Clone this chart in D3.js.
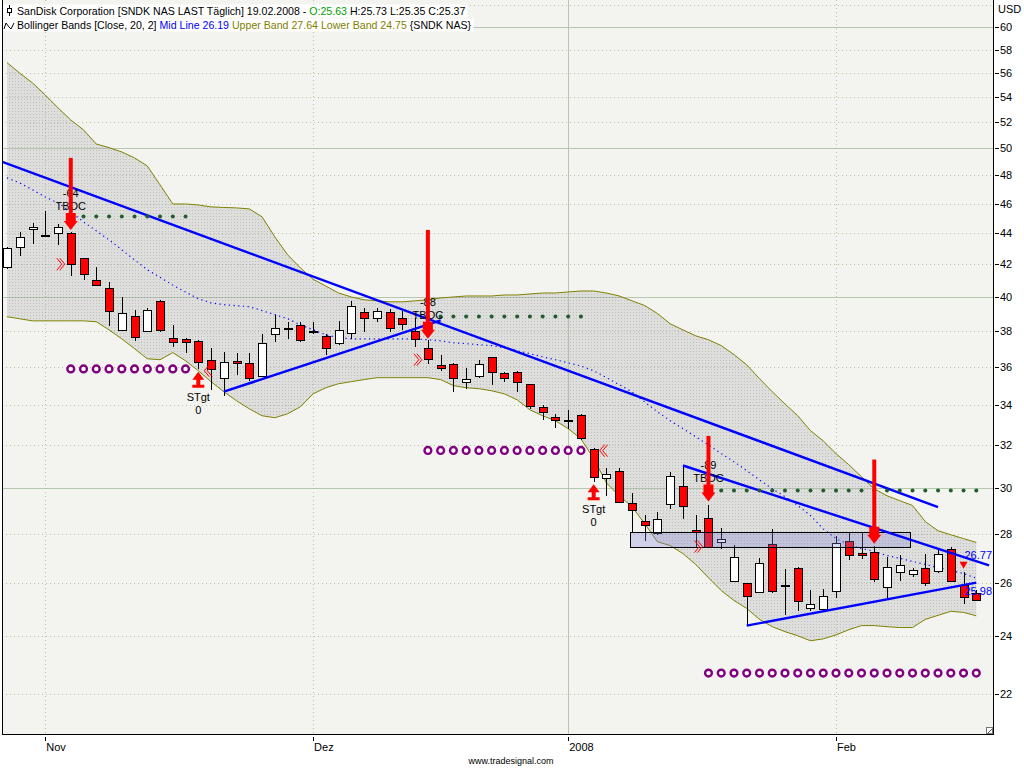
<!DOCTYPE html>
<html>
<head>
<meta charset="utf-8">
<script src="https://cdn.jsdelivr.net/npm/d3@7"></script>
<style>
  body { margin: 0; background: #fff; }
  svg { display: block; }
  text { font-family: "Liberation Sans", Arial, sans-serif; }
</style>
</head>
<body>
<div id="chart"></div>
<script>
// trading days, SNDK daily
const dates = [
  "2007-10-29","2007-10-30","2007-10-31",
  "2007-11-01","2007-11-02","2007-11-05","2007-11-06","2007-11-07","2007-11-08","2007-11-09",
  "2007-11-12","2007-11-13","2007-11-14","2007-11-15","2007-11-16","2007-11-19","2007-11-20",
  "2007-11-21","2007-11-23","2007-11-26","2007-11-27","2007-11-28","2007-11-29","2007-11-30",
  "2007-12-03","2007-12-04","2007-12-05","2007-12-06","2007-12-07","2007-12-10","2007-12-11",
  "2007-12-12","2007-12-13","2007-12-14","2007-12-17","2007-12-18","2007-12-19","2007-12-20",
  "2007-12-21","2007-12-24","2007-12-26","2007-12-27","2007-12-28","2007-12-31",
  "2008-01-02","2008-01-03","2008-01-04","2008-01-07","2008-01-08","2008-01-09","2008-01-10",
  "2008-01-11","2008-01-14","2008-01-15","2008-01-16","2008-01-17","2008-01-18","2008-01-22",
  "2008-01-23","2008-01-24","2008-01-25","2008-01-28","2008-01-29","2008-01-30","2008-01-31",
  "2008-02-01","2008-02-04","2008-02-05","2008-02-06","2008-02-07","2008-02-08","2008-02-11",
  "2008-02-12","2008-02-13","2008-02-14","2008-02-15","2008-02-19"
];

const open = [
  41.81,43.09,44.27,
  43.88,44.00,44.00,42.38,41.00,40.50,38.06,38.85,38.00,39.73,37.59,37.55,37.42,36.39,35.39,36.32,36.19,35.50,37.81,38.15,38.34,
  37.97,37.69,37.31,37.86,39.08,38.73,39.08,38.76,38.00,37.02,36.08,36.14,35.20,35.50,36.52,35.67,35.71,35.07,33.87,33.39,
  33.24,33.49,31.79,30.45,30.78,29.33,28.54,28.04,29.30,30.07,28.17,28.69,27.66,26.10,26.00,25.66,27.56,25.94,26.61,25.05,25.00,
  25.68,27.70,27.22,27.25,25.85,26.41,26.37,26.61,26.48,27.38,25.91,25.63
];
const high = [
  43.10,44.06,44.68,
  45.50,44.62,44.10,42.40,41.81,40.86,39.96,39.18,39.32,39.82,38.34,37.60,37.45,37.00,36.80,36.76,36.76,37.82,38.93,38.50,38.53,
  38.50,37.82,38.55,39.71,39.32,39.32,39.24,39.12,38.73,37.45,36.63,36.19,35.92,36.39,36.55,35.71,35.75,35.10,33.99,33.54,
  33.75,33.54,31.85,30.92,30.92,29.78,28.79,28.94,30.73,31.01,28.82,29.26,28.24,27.55,26.02,27.01,28.20,26.55,26.62,25.73,25.78,
  27.90,28.07,28.04,27.48,27.05,27.14,26.61,27.18,27.35,27.45,26.45,25.73
];
const low = [
  41.70,42.49,43.31,
  43.83,43.24,41.26,41.02,40.65,38.30,38.00,37.40,37.92,37.95,37.06,36.73,35.88,34.74,34.47,35.55,35.21,35.45,37.39,37.51,37.36,
  37.82,36.63,37.17,37.55,37.92,38.50,37.92,38.05,37.07,36.16,35.79,34.66,34.83,35.39,35.00,35.16,34.66,33.79,33.21,32.83,
  32.80,32.22,30.27,29.66,29.35,28.07,27.72,27.96,29.08,28.65,27.46,27.44,27.37,26.04,24.40,25.62,25.63,24.80,24.93,24.93,24.90,
  25.41,26.91,26.95,26.06,25.44,26.10,26.25,25.90,26.40,26.04,25.21,25.35
];
const close = [
  43.03,43.74,44.41,
  43.88,44.41,42.00,41.40,40.68,39.12,39.04,37.64,39.20,38.05,37.37,37.40,36.25,35.92,36.25,36.20,35.36,37.31,38.17,38.15,37.51,
  37.97,37.02,38.05,39.44,38.73,39.14,38.15,38.44,37.55,36.43,35.92,35.39,35.36,36.14,35.71,35.42,35.18,33.92,33.62,33.24,
  33.24,32.34,30.50,30.64,29.38,29.04,28.38,28.65,30.55,29.16,28.07,27.46,27.79,27.05,25.51,26.81,25.68,25.94,25.34,25.20,25.51,
  27.62,27.14,27.14,26.17,26.65,26.70,26.52,26.01,27.18,26.10,25.43,25.37
];

// Bollinger Bands [Close, 20, 2]
const bandUpper = [
  56.87,55.98,55.16,
  54.17,53.13,52.17,51.40,50.32,50.05,49.72,49.28,48.69,47.32,45.98,45.98,45.91,45.78,45.74,45.71,45.64,45.10,43.76,42.60,41.77,
  41.06,40.64,40.22,39.98,39.81,39.75,39.69,39.69,39.75,39.81,39.92,39.98,40.04,40.04,40.04,40.10,40.10,40.16,40.22,40.22,
  40.28,40.34,40.34,40.22,40.04,39.75,39.47,39.00,38.40,38.05,37.71,37.49,37.16,36.66,36.10,35.36,34.67,34.04,33.44,32.70,32.20,
  31.59,31.07,30.51,29.96,29.65,29.43,29.22,28.52,28.13,27.96,27.80,27.64
];
const bandMid = [
  47.82,47.46,46.97,
  46.47,46.05,45.44,44.76,44.16,43.57,42.92,42.27,41.65,41.18,40.70,40.28,39.87,39.63,39.52,39.46,39.40,39.17,38.93,38.70,38.34,
  38.05,37.77,37.60,37.54,37.54,37.54,37.54,37.54,37.54,37.49,37.43,37.32,37.27,37.21,37.16,37.04,36.88,36.71,36.54,36.38,
  36.21,36.04,35.78,35.41,35.04,34.67,34.14,33.64,33.19,32.80,32.40,32.00,31.59,31.21,30.79,30.37,29.96,29.61,29.22,28.78,28.21,
  27.80,27.55,27.39,27.27,27.10,26.99,26.86,26.74,26.62,26.50,26.38,26.19
];
const bandLower = [
  38.81,38.69,38.57,
  38.57,38.57,38.57,38.57,38.52,38.05,37.54,36.99,36.43,36.38,36.77,36.32,35.78,35.20,34.67,34.20,33.79,33.44,33.34,33.54,33.89,
  34.56,34.88,35.09,35.20,35.31,35.41,35.41,35.41,35.41,35.41,35.31,34.99,34.88,34.83,34.72,34.56,34.25,33.74,33.44,33.19,
  32.80,32.30,31.35,30.23,29.65,29.17,28.43,27.67,27.51,27.18,26.74,26.21,25.71,25.33,25.03,24.62,24.35,24.17,24.02,23.84,23.91,
  24.05,24.24,24.39,24.39,24.35,24.32,24.32,24.62,24.77,24.92,24.88,24.75
];

// axis
const priceTicks = d3.range(22, 61, 2);
const gridLevels = d3.range(22, 63, 2);
const monthTickDates = ["2007-11-01", "2007-12-03", "2008-01-02", "2008-02-01"];
const monthTickLabels = ["Nov", "Dez", "2008", "Feb"];

// drawing tools: trend lines in bar numbers (0 = first bar), price
const trendLines = [
  { b0: -1, p0: 49.2, b1: 73, p1: 29.15 },
  { b0: 17, p0: 34.67, b1: 34, p1: 38.6 },
  { b0: 53, p0: 31.03, b1: 77, p1: 26.70, label: "26.77" },
  { b0: 58, p0: 24.39, b1: 76, p1: 26.02, label: "25.98" }
];
const zoneBox = { b0: 48.85, b1: 70.8, top: 28.08, bottom: 27.47 };

// signals
const downArrows = [
  { date: "2007-11-05", tip: 44.22, top: 49.28, score: "-64", tag: "TBOC" },
  { date: "2007-12-14", tip: 37.54, top: 44.22, score: "-88", tag: "TBOC" },
  { date: "2008-01-17", tip: 29.39, top: 32.44, score: "-89", tag: "TBOC" },
  { date: "2008-02-06", tip: 27.59, top: 31.31, score: null, tag: null }
];
const upArrows = [
  { date: "2007-11-19", tip: 35.73, tag: "STgt", value: "0" },
  { date: "2008-01-04", tip: 30.17, tag: "STgt", value: "0" }
];
const chevrons = [
  { date: "2007-11-05", price: 42.0, dir: 1 },
  { date: "2007-12-14", price: 36.38, dir: 1 },
  { date: "2008-01-17", price: 27.47, dir: 1 },
  { date: "2007-11-19", price: 35.78, dir: -1 },
  { date: "2008-01-04", price: 31.73, dir: -1 }
];
const resistRows = [
  { from: "2007-11-05", to: "2007-11-16", price: 45.12 },
  { from: "2007-12-14", to: "2008-01-03", price: 38.83 },
  { from: "2008-01-17", to: "2008-02-19", price: 29.88 }
];
const supportRows = [
  { from: "2007-11-05", to: "2007-11-16", price: 35.88 },
  { from: "2007-12-14", to: "2008-01-03", price: 31.74 },
  { from: "2008-01-17", to: "2008-02-19", price: 22.71 }
];
const warnTriangle = { date: "2008-02-15", price: 26.85 };

const W = 1024, H = 768;
const plot = { left: 2, right: 993, top: 0, bottom: 734 };
const red = "#ff0000";

const svg = d3.select("#chart").append("svg")
  .attr("width", W).attr("height", H);

const x = d3.scaleLinear().domain([0, dates.length - 1]).range([7, 976.3]);
const y = d3.scaleLog().domain([22, 60]).range([694.2, 27]);
const bar = d => dates.indexOf(d);
const px = v => Math.round(v) + 0.5;

svg.append("rect").attr("width", W).attr("height", H).attr("fill", "#fff");

const defs = svg.append("defs");
defs.append("clipPath").attr("id", "plotClip").append("rect")
  .attr("x", plot.left).attr("y", plot.top)
  .attr("width", plot.right - plot.left).attr("height", plot.bottom - plot.top);
const pat = defs.append("pattern").attr("id", "stipple")
  .attr("width", 3).attr("height", 3).attr("patternUnits", "userSpaceOnUse");
pat.append("rect").attr("width", 3).attr("height", 3).attr("fill", "rgba(170,170,170,0.28)");
pat.append("rect").attr("width", 1).attr("height", 1).attr("fill", "rgba(130,130,130,0.35)");

const g = svg.append("g").attr("clip-path", "url(#plotClip)");
g.append("rect")
  .attr("x", plot.left).attr("y", plot.top)
  .attr("width", plot.right - plot.left).attr("height", plot.bottom - plot.top)
  .attr("fill", "#f3f4f0");

// grid
g.selectAll("line.hgrid").data(gridLevels).join("line")
  .attr("class", "hgrid")
  .attr("x1", plot.left).attr("x2", plot.right)
  .attr("y1", d => px(y(d))).attr("y2", d => px(y(d)))
  .attr("stroke", d => d % 10 === 0 ? "#b7c7af" : "#b9c2a0")
  .attr("stroke-dasharray", d => d % 10 === 0 ? null : "1,3");

g.selectAll("line.vgrid").data(monthTickDates).join("line")
  .attr("class", "vgrid")
  .attr("y1", plot.top).attr("y2", plot.bottom)
  .attr("x1", d => px(x(bar(d)))).attr("x2", d => px(x(bar(d))))
  .attr("stroke", (d, i) => monthTickLabels[i] === "2008" ? "#b7c7af" : "#b9c2a0")
  .attr("stroke-dasharray", (d, i) => monthTickLabels[i] === "2008" ? null : "1,3");

// bollinger bands
const idx = d3.range(dates.length);
g.append("path").datum(idx)
  .attr("fill", "url(#stipple)")
  .attr("d", d3.area().x(i => x(i)).y0(i => y(bandLower[i])).y1(i => y(bandUpper[i])));
[bandUpper, bandLower].forEach(band => {
  g.append("path").datum(idx)
    .attr("fill", "none").attr("stroke", "#808000").attr("stroke-width", 1)
    .attr("d", d3.line().x(i => x(i)).y(i => y(band[i])));
});
g.append("path").datum(idx)
  .attr("fill", "none").attr("stroke", "#0000ff").attr("stroke-width", 1.2)
  .attr("stroke-dasharray", "1.2,3.5")
  .attr("d", d3.line().x(i => x(i)).y(i => y(bandMid[i])));

// candles
const bars = dates.map((d, i) => ({ i, o: open[i], h: high[i], l: low[i], c: close[i] }));
const cg = g.append("g").attr("shape-rendering", "crispEdges");
cg.selectAll("line.wick").data(bars).join("line")
  .attr("x1", d => px(x(d.i))).attr("x2", d => px(x(d.i)))
  .attr("y1", d => Math.round(y(d.h))).attr("y2", d => Math.round(y(d.l)))
  .attr("stroke", "#000");
cg.selectAll("rect.body").data(bars).join("rect")
  .attr("x", d => Math.round(x(d.i)) - 4 + 0.5)
  .attr("y", d => Math.round(y(Math.max(d.o, d.c))) + 0.5)
  .attr("width", 8)
  .attr("height", d => Math.max(1, Math.round(Math.abs(y(d.o) - y(d.c)))))
  .attr("fill", d => d.c > d.o ? "#fff" : d.c < d.o ? red : "#000")
  .attr("stroke", "#000");

// zone box
g.append("rect")
  .attr("x", px(x(zoneBox.b0))).attr("y", px(y(zoneBox.top)))
  .attr("width", Math.round(x(zoneBox.b1) - x(zoneBox.b0)))
  .attr("height", Math.round(y(zoneBox.bottom) - y(zoneBox.top)))
  .attr("fill", "rgba(130,130,215,0.30)").attr("stroke", "#000");

// trend lines
g.selectAll("line.trend").data(trendLines).join("line")
  .attr("x1", d => x(d.b0)).attr("y1", d => y(d.p0))
  .attr("x2", d => x(d.b1)).attr("y2", d => y(d.p1))
  .attr("stroke", "#0000ff").attr("stroke-width", 2.4);
g.selectAll("text.trendlab").data(trendLines.filter(d => d.label)).join("text")
  .attr("x", plot.right - 1).attr("text-anchor", "end")
  .attr("y", (d, i) => y(d.p1) + (i === 0 ? -6 : 12))
  .attr("font-size", 11).attr("fill", "#0000ff")
  .text(d => d.label);

// resistance dots and support rings
resistRows.forEach(r => {
  const bs = d3.range(bar(r.from), bar(r.to) + 1);
  g.append("g").selectAll("circle").data(bs).join("circle")
    .attr("cx", b => x(b)).attr("cy", y(r.price)).attr("r", 2)
    .attr("fill", "#0b6a1c");
  g.append("g").selectAll("circle").data(bs).join("circle")
    .attr("cx", b => x(b)).attr("cy", y(r.price)).attr("r", 0.8)
    .attr("fill", "#8a1a8a");
});
supportRows.forEach(r => {
  const bs = d3.range(bar(r.from), bar(r.to) + 1);
  g.append("g").selectAll("circle").data(bs).join("circle")
    .attr("cx", b => x(b)).attr("cy", y(r.price)).attr("r", 3.4)
    .attr("fill", "#fff").attr("stroke", "#800080").attr("stroke-width", 2.4);
});

// chevrons
chevrons.forEach(c => {
  const cx = x(bar(c.date)) - c.dir * 10;
  const cy = y(c.price);
  [0, 3].forEach(off => {
    const x0 = cx - c.dir * 4 + c.dir * off;
    g.append("path")
      .attr("d", `M${x0},${cy - 6}L${x0 + c.dir * 5},${cy}L${x0},${cy + 6}`)
      .attr("fill", "none").attr("stroke", red).attr("stroke-width", 1);
  });
});

// down arrows
downArrows.forEach(a => {
  const cx = x(bar(a.date));
  const tip = y(a.tip), top = y(a.top);
  if (a.score) {
    g.append("text").attr("x", cx).attr("y", tip - 33).attr("text-anchor", "middle")
      .attr("font-size", 11).attr("fill", "#000").text(a.score);
    g.append("text").attr("x", cx).attr("y", tip - 20).attr("text-anchor", "middle")
      .attr("font-size", 11).attr("fill", "#000").text(a.tag);
  }
  g.append("rect").attr("x", cx - 2).attr("y", top)
    .attr("width", 4).attr("height", tip - 16 - top).attr("fill", red);
  g.append("path")
    .attr("d", `M${cx - 5},${tip - 17}L${cx + 5},${tip - 17}L${cx + 5},${tip - 9}L${cx + 7},${tip - 9}` +
      `L${cx},${tip}L${cx - 7},${tip - 9}L${cx - 5},${tip - 9}Z`)
    .attr("fill", red);
});

// up arrows (targets)
upArrows.forEach(a => {
  const cx = x(bar(a.date));
  const t = y(a.tip);
  g.append("path")
    .attr("d", `M${cx},${t}L${cx + 6},${t + 8}L${cx + 2},${t + 8}L${cx + 2},${t + 13}L${cx + 6},${t + 13}` +
      `L${cx + 6},${t + 16}L${cx - 6},${t + 16}L${cx - 6},${t + 13}L${cx - 2},${t + 13}L${cx - 2},${t + 8}L${cx - 6},${t + 8}Z`)
    .attr("fill", red);
  g.append("text").attr("x", cx).attr("y", t + 29).attr("text-anchor", "middle")
    .attr("font-size", 11).text(a.tag);
  g.append("text").attr("x", cx).attr("y", t + 42).attr("text-anchor", "middle")
    .attr("font-size", 11).text(a.value);
});

// warning triangle
{
  const cx = x(bar(warnTriangle.date)), t = y(warnTriangle.price);
  g.append("path").attr("d", `M${cx - 4},${t}L${cx + 4},${t}L${cx},${t + 7}Z`).attr("fill", red);
}

// header
const header = svg.append("g");
const lines = [
  { y: 15, parts: [
    ["SanDisk Corporation [SNDK NAS LAST Täglich] 19.02.2008 - ", "#000"],
    ["O:25.63", "#00a000"],
    [" H:25.73 L:25.35 C:25.37", "#000"]
  ] },
  { y: 29, parts: [
    ["Bollinger Bands [Close, 20, 2] ", "#000"],
    ["Mid Line 26.19", "#0000ff"],
    [" Upper Band 27.64 Lower Band 24.75", "#808000"],
    [" {SNDK NAS}", "#000"]
  ] }
];
lines.forEach((ln, k) => {
  const bg = header.append("rect").attr("fill", "#fff");
  const t = header.append("text").attr("x", 17).attr("y", ln.y).attr("font-size", 10.6)
    .attr("xml:space", "preserve");
  ln.parts.forEach(p => t.append("tspan").attr("fill", p[1]).text(p[0]));
  const bb = t.node().getBBox();
  bg.attr("x", 3).attr("y", bb.y - 0.5).attr("width", bb.x + bb.width - 1).attr("height", bb.height + 1);
});
// legend icons
header.append("line").attr("x1", 9.5).attr("x2", 9.5).attr("y1", 5).attr("y2", 16).attr("stroke", "#000");
header.append("rect").attr("x", 7.5).attr("y", 8.5).attr("width", 4).attr("height", 4)
  .attr("fill", "#fff").attr("stroke", "#000");
header.append("path").attr("d", "M4,29 L6,23 L9,27 L11,29 L14,23")
  .attr("fill", "none").attr("stroke", "#000");

// axes
const axis = svg.append("g").attr("shape-rendering", "crispEdges");
axis.append("line").attr("x1", plot.left + 0.5).attr("x2", plot.left + 0.5)
  .attr("y1", 0).attr("y2", plot.bottom).attr("stroke", "#000");
axis.append("line").attr("x1", plot.left).attr("x2", plot.right + 1)
  .attr("y1", plot.bottom + 0.5).attr("y2", plot.bottom + 0.5).attr("stroke", "#000");
axis.append("line").attr("x1", plot.right + 0.5).attr("x2", plot.right + 0.5)
  .attr("y1", 0).attr("y2", plot.bottom + 1).attr("stroke", "#000");

axis.selectAll("line.ytick").data(priceTicks).join("line")
  .attr("x1", plot.right + 2).attr("x2", plot.right + 6)
  .attr("y1", d => px(y(d))).attr("y2", d => px(y(d)))
  .attr("stroke", "#000");
svg.selectAll("text.ylab").data(priceTicks).join("text")
  .attr("x", plot.right + 7).attr("y", d => y(d) + 4)
  .attr("font-size", 11).text(d => d);
svg.append("text").attr("x", plot.right + 5).attr("y", 13).attr("font-size", 11).text("USD");

axis.selectAll("line.xtick").data(monthTickDates).join("line")
  .attr("x1", d => px(x(bar(d)))).attr("x2", d => px(x(bar(d))))
  .attr("y1", plot.bottom + 3).attr("y2", plot.bottom + 7)
  .attr("stroke", "#000");
svg.selectAll("text.xlab").data(monthTickDates).join("text")
  .attr("x", d => x(bar(d)) + 1).attr("y", plot.bottom + 17)
  .attr("font-size", 11).text((d, i) => monthTickLabels[i]);

svg.append("text").attr("x", 511).attr("y", 764).attr("text-anchor", "middle")
  .attr("font-size", 9).text("www.tradesignal.com");

// resize grip
axis.append("rect").attr("x", plot.right - 6.5).attr("y", plot.bottom - 6.5)
  .attr("width", 6).attr("height", 6).attr("fill", "#fff").attr("stroke", "#777");
axis.append("line").attr("x1", plot.right - 5).attr("y1", plot.bottom - 1)
  .attr("x2", plot.right - 1).attr("y2", plot.bottom - 5).attr("stroke", "#555");
</script>
</body>
</html>
